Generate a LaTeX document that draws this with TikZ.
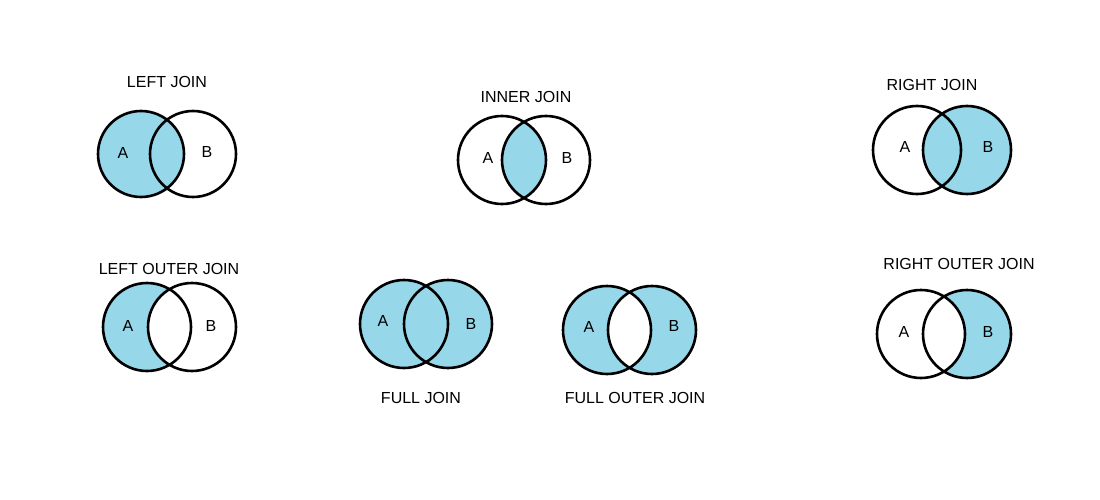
\documentclass[tikz,border=0pt]{standalone}
\usepackage{fontspec}
\setmainfont{Liberation Sans}
\definecolor{jb}{HTML}{97D7EA}
\newcommand\vd[8]{% name, xa, xb, y, r, cA, cB, cI
  \fill[#6] (#2,#4) circle (#5);
  \fill[#7] (#3,#4) circle (#5);
  \begin{scope}\clip (#2,#4) circle (#5); \fill[#8] (#3,#4) circle (#5);\end{scope}
  \draw[circ] (#2,#4) circle (#5) (#3,#4) circle (#5);
}
\begin{document}
\begin{tikzpicture}[x=1pt,y=-1pt,
  circ/.style={line width=2.6pt,black},
  lab/.style={font=\fontsize{16}{18}\selectfont,inner sep=0pt}]
\useasboundingbox[fill=white] (0,0) rectangle (1100,500);
\vd{lj}{141}{193}{154}{43}{jb}{white}{jb}
\node[lab] (t1) at (167,82) {LEFT JOIN};
\node[lab] (a1) at (123,153) {A};\node[lab] (b1) at (207,152) {B};
\vd{ij}{502}{546}{160}{44}{white}{white}{jb}
\node[lab] (t2) at (526,97) {INNER JOIN};
\node[lab] (a2) at (488,158) {A};\node[lab] (b2) at (567,158) {B};
\vd{rj}{917}{967}{150}{44}{white}{jb}{jb}
\node[lab] (t3) at (932,85) {RIGHT JOIN};
\node[lab] (a3) at (905,147) {A};\node[lab] (b3) at (988,147) {B};
\vd{loj}{147}{192}{327}{44}{jb}{white}{white}
\node[lab] (t4) at (169,269) {LEFT OUTER JOIN};
\node[lab] (a4) at (128,326) {A};\node[lab] (b4) at (211,326) {B};
\vd{fj}{404}{448}{324}{44}{jb}{jb}{jb}
\node[lab] (t5) at (421,398) {FULL JOIN};
\node[lab] (a5) at (383,321) {A};\node[lab] (b5) at (471,324) {B};
\vd{foj}{607}{652}{330}{44}{jb}{jb}{white}
\node[lab] (t6) at (635,398) {FULL OUTER JOIN};
\node[lab] (a6) at (589,327) {A};\node[lab] (b6) at (674,326) {B};
\vd{roj}{921}{967}{334}{44}{white}{jb}{white}
\node[lab] (t7) at (959,264) {RIGHT OUTER JOIN};
\node[lab] (a7) at (904,332) {A};\node[lab] (b7) at (988,332) {B};
\end{tikzpicture}
\end{document}
